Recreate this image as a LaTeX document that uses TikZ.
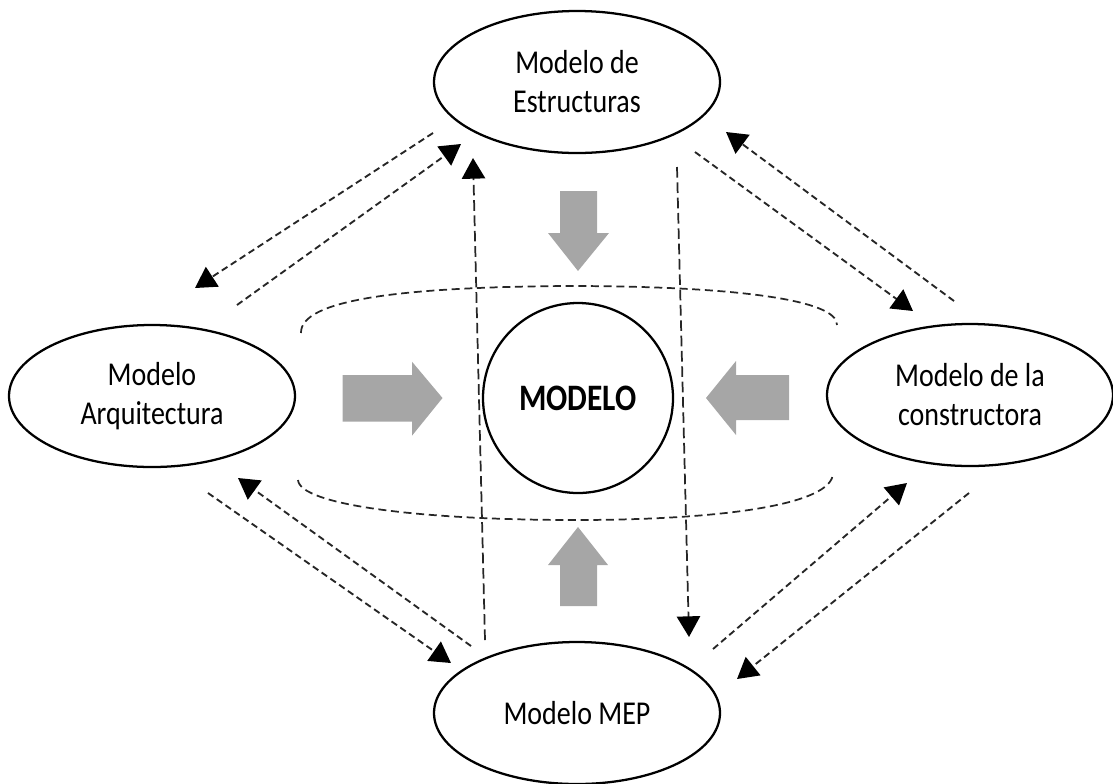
\documentclass[tikz,border=0pt]{standalone}
\usepackage{fontspec}
\setmainfont{Carlito}[FakeStretch=0.84]
\usetikzlibrary{arrows.meta,shapes.geometric}

\begin{document}
\begin{tikzpicture}[x=0.75pt,y=-0.75pt,
  model/.style={draw, line width=1.7pt, ellipse, minimum width=214.5pt,
    minimum height=106.5pt, inner sep=0pt, align=center,
    font=\fontsize{25}{29.25}\selectfont},
  core/.style={draw, line width=1.7pt, circle, minimum size=142.5pt,
    inner sep=0pt, font=\fontsize{28}{30}\selectfont\bfseries},
  tip/.style={-{Triangle[length=15.5pt,width=17.5pt,color=black]}},
  link/.style={tip, draw=black!85, line width=1.4pt, dash pattern=on 5pt off 3pt},
  vlink/.style={tip, draw=black!85, line width=1.3pt, dash pattern=on 8pt off 3.5pt},
  ring/.style={draw=black!85, line width=1.3pt, dash pattern=on 6pt off 3.5pt},
  bigarrow/.style={fill=black!35, draw=none}
]
\useasboundingbox (0,0) rectangle (1113,783);

% the five models
\node[model] (est) at (577,82)  {Modelo de\\Estructuras};
\node[model] (arq) at (152,396) {Modelo\\Arquitectura};
\node[model] (con) at (970,395) {Modelo de la\\constructora};
\node[model] (mep) at (577,713) {Modelo MEP};
\node[core]  (mod) at (578,398) {MODELO};

% dashed ring around the central model (top and bottom halves)
\draw[ring] (301,333) .. controls (300,300) and (400,287) .. (568,286)
                      .. controls (736,286) and (838,300) .. (837,325);
\draw[ring] (298,480) .. controls (300,505) and (420,520) .. (575,520)
                      .. controls (720,520) and (833,505) .. (833,473);

% grey block arrows pointing at the central model
\fill[bigarrow] (342.5,375) -- (412,375) -- (412,361.7) -- (442.5,398)
  -- (412,435.7) -- (412,421.7) -- (342.5,421.7) -- cycle;
\fill[bigarrow] (789,375) -- (736,375) -- (736,361) -- (706,398)
  -- (736,435) -- (736,420) -- (789,420) -- cycle;
\fill[bigarrow] (560,191) -- (597,191) -- (597,233) -- (609,233)
  -- (578,271) -- (548,233) -- (560,233) -- cycle;
\fill[bigarrow] (560,606) -- (597,606) -- (597,565) -- (608,565)
  -- (578,527) -- (548,565) -- (560,565) -- cycle;

% connector end points
\coordinate (est-arq-s) at (433,133);  \coordinate (est-arq-e) at (195,288);
\coordinate (arq-est-s) at (237,305);  \coordinate (arq-est-e) at (461,144);
\coordinate (mep-est-s) at (485,640);  \coordinate (mep-est-e) at (473,158);
\coordinate (est-mep-s) at (677,167);  \coordinate (est-mep-e) at (689,637);
\coordinate (est-con-s) at (695,152);  \coordinate (est-con-e) at (913,311);
\coordinate (con-est-s) at (954,301);  \coordinate (con-est-e) at (726,132);
\coordinate (arq-mep-s) at (208,493);  \coordinate (arq-mep-e) at (451,663);
\coordinate (mep-arq-s) at (471,646);  \coordinate (mep-arq-e) at (238,478);
\coordinate (mep-con-s) at (713,649);  \coordinate (mep-con-e) at (907,483);
\coordinate (con-mep-s) at (969,493);  \coordinate (con-mep-e) at (737,679);

% exchanges between the models
\draw[link]  (est-arq-s) -- (est-arq-e);
\draw[link]  (arq-est-s) -- (arq-est-e);
\draw[vlink] (mep-est-s) -- (mep-est-e);
\draw[vlink] (est-mep-s) -- (est-mep-e);
\draw[link]  (est-con-s) -- (est-con-e);
\draw[link]  (con-est-s) -- (con-est-e);
\draw[link]  (arq-mep-s) -- (arq-mep-e);
\draw[link]  (mep-arq-s) -- (mep-arq-e);
\draw[link]  (mep-con-s) -- (mep-con-e);
\draw[link]  (con-mep-s) -- (con-mep-e);
\end{tikzpicture}
\end{document}
